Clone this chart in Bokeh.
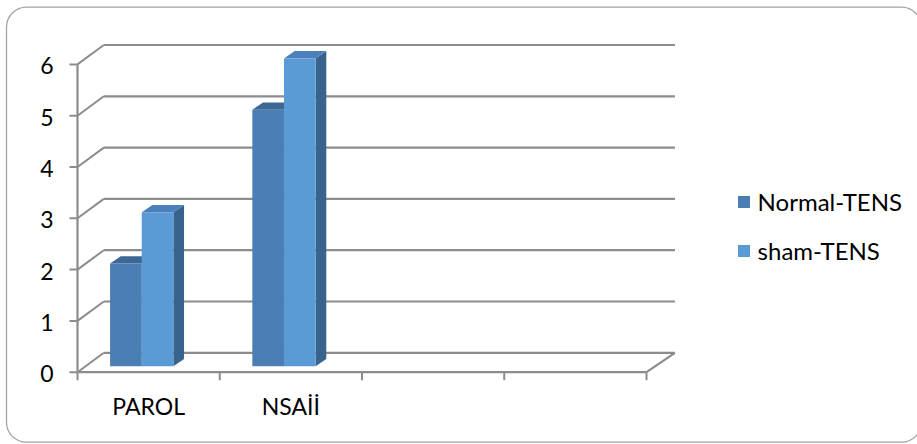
from bokeh.plotting import figure
from bokeh.models import Range1d, Legend, LegendItem
from bokeh.core.properties import value
from bokeh.embed import file_html
from bokeh.resources import INLINE

# ---- data -------------------------------------------------------------
categories = ["PAROL", "NSAİİ", "", ""]
series_names = ["Normal-TENS", "sham-TENS"]
normal_tens = [2, 5]
sham_tens = [3, 6]
y_ticks = [0, 1, 2, 3, 4, 5, 6]
y_tick_labels = ["0", "1", "2", "3", "4", "5", "6"]

# ---- style ------------------------------------------------------------
FONT = "Lato"
TEXT_SIZE = "23px"
LEGEND_SIZE = "24px"
LINE_GRAY = "#8c8c8c"
BORDER_GRAY = "#a3a3a3"
FRONT = ["#4a7eb4", "#5b9bd5"]
TOP = ["#3d6894", "#4b80bb"]
SIDE = ["#38638c", "#38638c"]

W, H = 917, 444
X_UNIT = 142.25          # pixels per category slot
Y_UNIT = 51.3            # pixels per value unit
ORIGIN_X, ORIGIN_Y = 77.0, 371.7   # front corner of the floor, in pixels

# pseudo-3D depth of the back wall and of the columns (data units)
WALL_DX, WALL_DY = 0.185, 0.378
WALL_RIGHT_DX = 0.2
BAR_START, BAR_W = 0.229, 0.2225
BAR_BASE = 0.117
CAP_DX, CAP_DY = 0.075, 0.142
TICK_X = 8 / X_UNIT
TICK_Y = 8 / Y_UNIT
n_cat = len(categories)
y_max = max(y_ticks)

p = figure(width=W, height=H, output_backend="svg", toolbar_location=None,
           x_axis_type=None, y_axis_type=None,
           x_range=Range1d(-ORIGIN_X / X_UNIT, (W - ORIGIN_X) / X_UNIT),
           y_range=Range1d((ORIGIN_Y - H) / Y_UNIT, ORIGIN_Y / Y_UNIT),
           min_border=0, outline_line_color=None,
           background_fill_color="white", border_fill_color="white")
p.grid.visible = False

# rounded chart-area border
p.quad(left=(6 - ORIGIN_X) / X_UNIT, right=(921 - ORIGIN_X) / X_UNIT,
       top=(ORIGIN_Y - 6.7) / Y_UNIT, bottom=(ORIGIN_Y - 441.7) / Y_UNIT,
       fill_color=None, line_color=BORDER_GRAY, line_width=1.3, border_radius=20)

# back-wall gridlines and their slanted links to the value axis
back_x0, back_x1 = WALL_DX, n_cat + WALL_RIGHT_DX
p.multi_line(xs=[[back_x0, back_x1] for _ in y_ticks],
             ys=[[v + WALL_DY, v + WALL_DY] for v in y_ticks],
             line_color=LINE_GRAY, line_width=2.2)
p.multi_line(xs=[[0, WALL_DX] for _ in y_ticks],
             ys=[[v, v + WALL_DY] for v in y_ticks],
             line_color=LINE_GRAY, line_width=2)

# floor: front edge and right edge
p.multi_line(xs=[[0, n_cat], [n_cat, n_cat + WALL_RIGHT_DX]],
             ys=[[0, 0], [0, WALL_DY]],
             line_color=LINE_GRAY, line_width=2.2)

# value axis line and ticks
p.segment(x0=[0], y0=[0], x1=[0], y1=[y_max], line_color=LINE_GRAY, line_width=2.2)
p.segment(x0=[-TICK_X] * len(y_ticks), y0=y_ticks, x1=[0] * len(y_ticks), y1=y_ticks,
          line_color=LINE_GRAY, line_width=2)
cat_edges = list(range(n_cat + 1))
p.segment(x0=cat_edges, y0=[0] * len(cat_edges), x1=cat_edges, y1=[-TICK_Y] * len(cat_edges),
          line_color=LINE_GRAY, line_width=2)

# tick labels
p.text(x=[0] * len(y_ticks), y=y_ticks, text=y_tick_labels,
       x_offset=-24, y_offset=1.5, text_align="right", text_baseline="middle",
       text_font=value(FONT), text_font_size=value(TEXT_SIZE), text_color="black")
p.text(x=[i + 0.5 for i in range(n_cat)], y=[0] * n_cat, text=categories,
       y_offset=34, text_align="center", text_baseline="middle",
       text_font=value(FONT), text_font_size=value(TEXT_SIZE), text_color="black")

# columns: side face, top face, then front face for each series
front_renderers = []
for s, vals in enumerate([normal_tens, sham_tens]):
    lefts = [i + BAR_START + s * BAR_W for i in range(len(vals))]
    rights = [l + BAR_W for l in lefts]
    tops = [BAR_BASE + v for v in vals]
    side_xs = [[r, r + CAP_DX, r + CAP_DX, r] for r in rights]
    side_ys = [[BAR_BASE, BAR_BASE + CAP_DY, t + CAP_DY, t] for t in tops]
    p.patches(xs=side_xs, ys=side_ys, fill_color=SIDE[s], line_color=None)
    top_xs = [[l, r, r + CAP_DX, l + CAP_DX] for l, r in zip(lefts, rights)]
    top_ys = [[t, t, t + CAP_DY, t + CAP_DY] for t in tops]
    p.patches(xs=top_xs, ys=top_ys, fill_color=TOP[s], line_color=None)
    r = p.quad(left=lefts, right=rights, bottom=[BAR_BASE] * len(vals), top=tops,
               fill_color=FRONT[s], line_color=None)
    front_renderers.append(r)

legend = Legend(
    items=[LegendItem(label=name, renderers=[r]) for name, r in zip(series_names, front_renderers)],
    location=(735.6, 178.5), orientation="vertical",
    glyph_width=15, glyph_height=15, label_height=30, label_standoff=7, spacing=19,
    padding=0, margin=0, border_line_color=None, background_fill_alpha=0,
    label_text_font=FONT, label_text_font_size=LEGEND_SIZE, label_text_color="black")
p.add_layout(legend)

open("out.html", "w").write(file_html(p, INLINE))
